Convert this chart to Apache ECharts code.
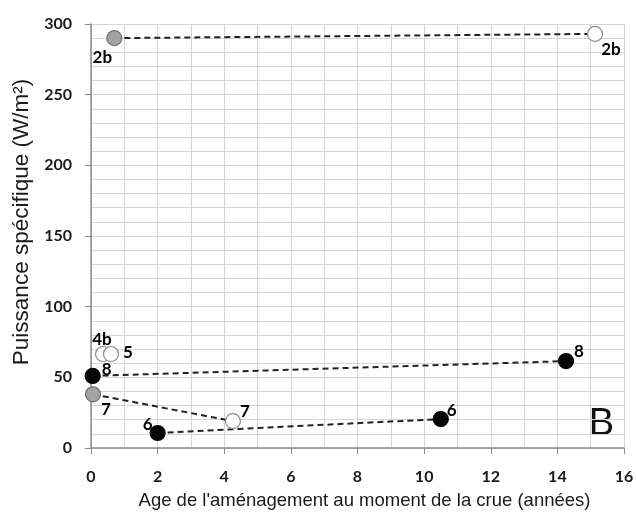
<!DOCTYPE html>
<html><head><meta charset="utf-8">
<script src="https://cdn.jsdelivr.net/npm/echarts@6/dist/echarts.min.js"></script>
<style>html,body{margin:0;padding:0;background:#fff}#c{width:636px;height:513px}</style>
</head><body><div id="c"></div>
<script>
// Data
const pointLabels = ['2b', '2b', '4b', '5', '8', '8', '7', '7', '6', '6'];
const ageYears = [0.7, 15.13, 0.36, 0.6, 0.05, 14.26, 0.06, 4.26, 2.0, 10.5];
const powerWm2 = [290, 293, 66.5, 66.5, 51, 61.5, 38, 19, 10.6, 20.5];
const markerKind = ['gris', 'blanc', 'blanc', 'blanc', 'noir', 'noir', 'gris', 'blanc', 'noir', 'noir'];
const linkedPairs = [[0, 1], [4, 5], [6, 7], [8, 9]];
const xTicks = [0, 2, 4, 6, 8, 10, 12, 14, 16];
const yTicks = [0, 50, 100, 150, 200, 250, 300];
const panelLetter = 'B';

// Styling / layout (not data)
const kindStyle = {
  gris: { color: '#a3a3a3', borderColor: '#6f6f6f' },
  blanc: { color: '#ffffff', borderColor: '#8a8a8a' },
  noir: { color: '#050505', borderColor: '#050505' }
};
const labelOffsets = [[-12, 19], [16, 16], [-1, -14], [17, -1], [14, -6], [13, -10], [13, 15], [12, -10], [-10, -9], [11, -9]];

const lineSeries = linkedPairs.map(p => ({
  type: 'line',
  data: p.map(i => [ageYears[i], powerWm2[i]]),
  symbol: 'none',
  lineStyle: { color: '#222', width: 2, type: [6, 4], opacity: 1 },
  z: 2, silent: true, animation: false
}));

const pointData = ageYears.map((x, i) => ({
  value: [x, powerWm2[i]],
  itemStyle: Object.assign({ borderWidth: 1.2, opacity: 1 }, kindStyle[markerKind[i]]),
  label: {
    show: true, formatter: pointLabels[i], position: 'inside', offset: labelOffsets[i],
    color: '#000', fontFamily: 'Lato', fontWeight: 'bold', fontSize: 17
  }
}));

const chart = echarts.init(document.getElementById('c'), null, { renderer: 'canvas' });
chart.setOption({
  animation: false,
  backgroundColor: '#fff',
  grid: { left: 91, right: 12, top: 24, bottom: 65, containLabel: false, outerBoundsMode: 'none' },
  xAxis: {
    type: 'value', min: xTicks[0], max: xTicks[xTicks.length - 1], interval: 2,
    name: "Age de l'aménagement au moment de la crue (années)",
    nameLocation: 'middle', nameGap: 43,
    nameTextStyle: { fontFamily: 'Liberation Sans', fontSize: 18.5, color: '#1a1a1a', padding: [0, 0, 0, 14] },
    axisLine: { show: true, lineStyle: { color: '#8c8c8c', width: 1.5 } },
    axisTick: { show: true, length: 6, lineStyle: { color: '#8c8c8c' } },
    axisLabel: { fontFamily: 'Lato', fontWeight: 'bold', fontSize: 16, color: '#1a1a1a', margin: 21 },
    splitLine: { show: true, lineStyle: { color: '#d6d6d6', width: 1 } },
    minorTick: { show: false, splitNumber: 2 },
    minorSplitLine: { show: true, lineStyle: { color: '#d6d6d6', width: 1 } }
  },
  yAxis: {
    type: 'value', min: yTicks[0], max: yTicks[yTicks.length - 1], interval: 50,
    name: 'Puissance spécifique (W/m²)',
    nameLocation: 'middle', nameGap: 53, nameRotate: 90,
    nameTextStyle: { fontFamily: 'Liberation Sans', fontSize: 22.5, color: '#1a1a1a', padding: [0, 0, 0, 28] },
    axisLine: { show: true, lineStyle: { color: '#8c8c8c', width: 1.5 } },
    axisTick: { show: true, length: 6, lineStyle: { color: '#8c8c8c' } },
    axisLabel: { fontFamily: 'Lato', fontWeight: 'bold', fontSize: 16, color: '#1a1a1a', margin: 19 },
    splitLine: { show: true, lineStyle: { color: '#d6d6d6', width: 1 } },
    minorTick: { show: false, splitNumber: 5 },
    minorSplitLine: { show: true, lineStyle: { color: '#d6d6d6', width: 1 } }
  },
  graphic: [{
    type: 'text', right: 22, top: 406,
    style: { text: panelLetter, fontFamily: 'Liberation Sans', fontSize: 38, fill: '#111' }
  }],
  series: lineSeries.concat([{
    type: 'scatter', data: pointData, symbol: 'circle', symbolSize: 15, z: 5,
    itemStyle: { opacity: 1 }
  }])
});
</script></body></html>
